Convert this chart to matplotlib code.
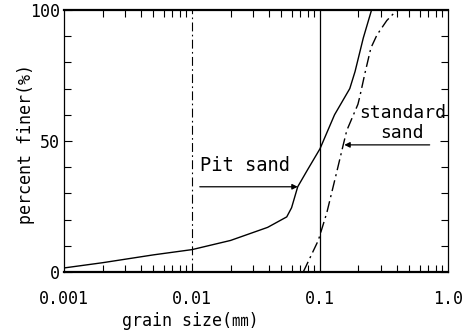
import numpy as np
import matplotlib
matplotlib.use("Agg")
import matplotlib.pyplot as plt
from matplotlib.ticker import FixedLocator, LogLocator, NullFormatter

plt.rcParams["font.family"] = ["DejaVu Sans Mono", "Noto Sans CJK JP"]

# grain size distribution
pit_size = [0.001, 0.002, 0.005, 0.01, 0.02, 0.039, 0.055, 0.06, 0.067, 0.08,
            0.1, 0.13, 0.171, 0.188, 0.218, 0.253]
pit_pct = [1.5, 3.5, 6.5, 8.5, 12, 17, 21, 24.5, 32.5, 39,
           47, 60, 70, 76.5, 89.3, 100]

std_size = [0.0741, 0.097, 0.113, 0.135, 0.152, 0.162, 0.198, 0.205, 0.225,
            0.25, 0.279, 0.333, 0.40]
std_pct = [0, 12, 22.5, 38, 48.5, 54, 64, 67, 76, 85.5, 90.5, 96, 100]

xticks = [0.001, 0.01, 0.1, 1.0]
xticklabels = ["0.001", "0.01", "0.1", "1.0"]
yticks = [0, 50, 100]

fig = plt.figure(figsize=(4.71, 3.34), dpi=100)
ax = fig.add_axes([0.136, 0.186, 0.815, 0.784])

ax.plot(pit_size, pit_pct, color="black", lw=1.0)
ax.plot(std_size, std_pct, color="black", lw=1.0, linestyle=(0, (8, 3, 1.5, 3)))

# reference lines at 0.01 and 0.1 mm
ax.axvline(0.01, color="black", lw=0.8, linestyle=(0, (8, 3, 1.5, 3)))
ax.axvline(0.1, color="black", lw=0.9)

ax.set_xscale("log")
ax.set_xlim(0.001, 1.0)
ax.set_ylim(0, 100)

ax.xaxis.set_major_locator(FixedLocator(xticks))
ax.set_xticklabels(xticklabels)
ax.xaxis.set_minor_locator(LogLocator(base=10, subs=np.arange(2, 10)))
ax.xaxis.set_minor_formatter(NullFormatter())
ax.set_yticks(yticks)
ax.yaxis.set_minor_locator(FixedLocator(np.arange(10, 100, 10)))

ax.tick_params(which="both", direction="in", top=True, right=True, labelsize=12,
               width=0.8)
ax.tick_params(which="major", length=6)
ax.tick_params(which="minor", length=5)
ax.tick_params(axis="x", which="major", length=0, pad=13)
ax.tick_params(axis="y", pad=3)

for side in ["top", "bottom"]:
    ax.spines[side].set_linewidth(1.6)
for side in ["left", "right"]:
    ax.spines[side].set_linewidth(0.9)

ax.set_xlabel("grain size(㎜)", fontsize=12)
ax.set_ylabel("percent finer(%)", fontsize=12)
ax.xaxis.set_label_coords(0.328, -0.155)
ax.yaxis.set_label_coords(-0.075, 0.49)

# labels with arrows pointing at the curves
ax.annotate("", xy=(0.067, 32.5), xytext=(0.0115, 32.5),
            arrowprops=dict(arrowstyle="-|>", color="black", lw=0.9,
                            mutation_scale=8, shrinkA=0, shrinkB=0))
ax.text(0.0115, 37, "Pit sand", fontsize=13.5, ha="left", va="bottom")

ax.annotate("", xy=(0.155, 48.5), xytext=(0.72, 48.5),
            arrowprops=dict(arrowstyle="-|>", color="black", lw=0.9,
                            mutation_scale=8, shrinkA=0, shrinkB=0))
ax.text(0.44, 57, "standard\nsand", fontsize=13, ha="center", va="center",
        linespacing=1.15)

fig.savefig("out.png", dpi=100)
